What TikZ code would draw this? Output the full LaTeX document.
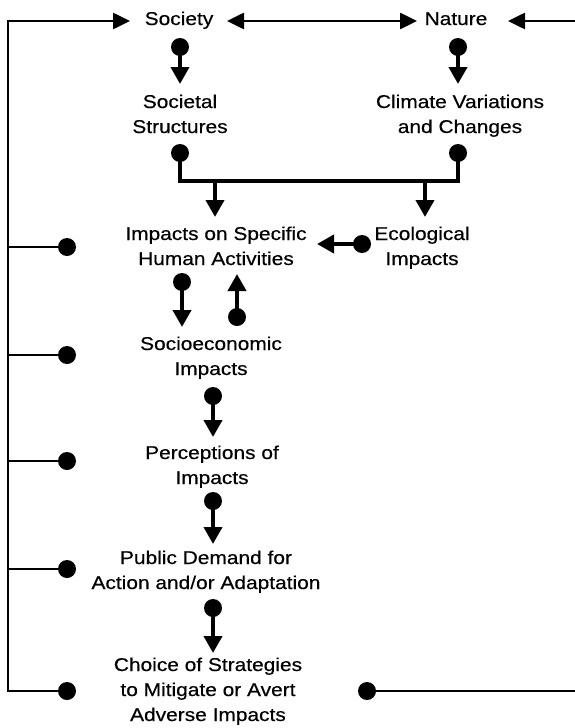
\documentclass[tikz,border=0pt]{standalone}
\usepackage{fontspec}
\setmainfont{Liberation Sans}[FakeStretch=1.13,FakeBold=0.4]
\usetikzlibrary{arrows.meta}
\begin{document}
\begin{tikzpicture}[x=1pt,y=-1pt,
  lbl/.style={align=center,inner sep=0pt,anchor=base,font=\fontsize{18.5}{25}\selectfont},
  dot/.style={circle,fill=black,inner sep=0pt,minimum size=18pt},
  arr/.style={line width=4pt,-{Triangle[width=18pt,length=17pt]}},
  fb/.style={line width=2.6pt},
  fbarr/.style={line width=2.6pt,-{Triangle[width=16pt,length=17pt]}},
  bar/.style={line width=4pt}]
\useasboundingbox[fill=white] (0,0) rectangle (574,728);
% text nodes (anchored at baseline of last line)
\node[lbl] (soc) at (179,25) {Society};
\node[lbl] (nat) at (456,25) {Nature};
\node[lbl] (sstr) at (180,133) {Societal\\Structures};
\node[lbl] (clim) at (460,133) {Climate Variations\\and Changes};
\node[lbl] (imp) at (216,265) {Impacts on Specific\\Human Activities};
\node[lbl] (eco) at (422,265) {Ecological\\Impacts};
\node[lbl] (sec) at (211,375) {Socioeconomic\\Impacts};
\node[lbl] (per) at (212,484) {Perceptions of\\Impacts};
\node[lbl] (pub) at (206,589) {Public Demand for\\Action and/or Adaptation};
\node[lbl] (cho) at (208,721) {Choice of Strategies\\to Mitigate or Avert\\Adverse Impacts};
% dots
\node[dot] (d1) at (180,47) {};
\node[dot] (d2) at (458,47) {};
\node[dot] (d3) at (180,153) {};
\node[dot] (d4) at (458,153) {};
\node[dot] (d5) at (362,244) {};
\node[dot] (d6) at (182,282) {};
\node[dot] (d7) at (237,317) {};
\node[dot] (d8) at (213,396) {};
\node[dot] (d9) at (213,501) {};
\node[dot] (d10) at (213,608) {};
\node[dot] (l1) at (67,247) {};
\node[dot] (l2) at (67,355) {};
\node[dot] (l3) at (67,461) {};
\node[dot] (l4) at (67,569) {};
\node[dot] (l5) at (67,691) {};
\node[dot] (r5) at (367,691) {};
% coordinates
\coordinate (t1) at (180,84);
\coordinate (t2) at (458,84);
\coordinate (bb) at (458,181);
\coordinate (b1) at (215,181);
\coordinate (b2) at (425,181);
\coordinate (t3) at (215,217);
\coordinate (t4) at (425,217);
\coordinate (t5) at (317,244);
\coordinate (t6) at (182,327);
\coordinate (t7) at (237,274);
\coordinate (t8) at (213,437);
\coordinate (t9) at (213,544);
\coordinate (t10) at (213,653);
\coordinate (lc) at (8,21);
\coordinate (lb) at (8,691);
\coordinate (ts) at (130,21);
\coordinate (tsl) at (227,21);
\coordinate (tnr) at (417,21);
\coordinate (tnl) at (508,21);
\coordinate (rc) at (590,21);
\coordinate (rb) at (590,691);
% connectors
\draw[arr] (d1.center) -- (t1);
\draw[arr] (d2.center) -- (t2);
\draw[bar] (d3.center) |- (bb) -- (d4.center);
\draw[arr] (b1) -- (t3);
\draw[arr] (b2) -- (t4);
\draw[arr] (d5.center) -- (t5);
\draw[arr] (d6.center) -- (t6);
\draw[arr] (d7.center) -- (t7);
\draw[arr] (d8.center) -- (t8);
\draw[arr] (d9.center) -- (t9);
\draw[arr] (d10.center) -- (t10);
% feedback loops
\draw[fbarr] (l5.center) -- (lb) -- (lc) -- (ts);
\foreach \n in {l1,l2,l3,l4} \draw[fb] (\n.center) -- (\n.center -| lc);
\draw[line width=2.6pt,{Triangle[width=16pt,length=17pt]}-{Triangle[width=16pt,length=17pt]}] (tsl) -- (tnr);
\draw[fbarr] (r5.center) -- (rb) -- (rc) -- (tnl);
\end{tikzpicture}
\end{document}
